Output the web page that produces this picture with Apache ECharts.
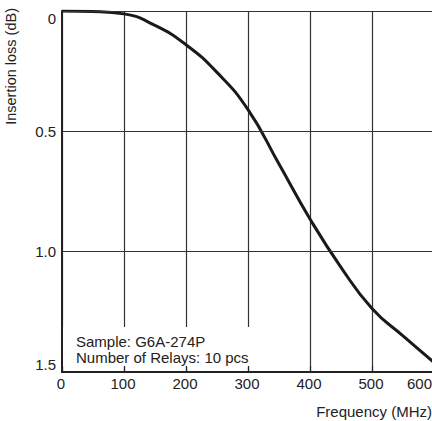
<!DOCTYPE html>
<html>
<head>
<meta charset="utf-8">
<script src="https://cdn.jsdelivr.net/npm/echarts@6/dist/echarts.min.js"></script>
<style>
html,body{margin:0;padding:0;background:#fff;}
#chart{width:432px;height:421px;}
</style>
</head>
<body>
<div id="chart"></div>
<script>
const frequencyMHz = [0, 50, 100, 150, 200, 250, 300, 350, 400, 450, 500, 550, 600];
const insertionLossDb = [0, 0.002, 0.012, 0.06, 0.14, 0.255, 0.41, 0.636, 0.864, 1.065, 1.236, 1.35, 1.46];
const xTicks = [0, 100, 200, 300, 400, 500, 600];
const yTickLabels = { 0: '0', 0.5: '0.5', 1: '1.0', 1.5: '1.5' };
const xTitle = 'Frequency (MHz)';
const yTitle = 'Insertion loss (dB)';
const noteLines = ['Sample: G6A-274P', 'Number of Relays: 10 pcs'];

const FONT = '"Liberation Sans", Arial, Helvetica, sans-serif';
const chart = echarts.init(document.getElementById('chart'), null, { renderer: 'svg' });

chart.setOption({
  backgroundColor: '#fff',
  animation: false,
  grid: { left: 62, top: 11, width: 372, height: 361, containLabel: false, outerBoundsMode: 'none' },
  xAxis: [
    {
      type: 'value', min: 0, max: 600, interval: 100, position: 'bottom', z: 5,
      axisLine: { show: true, onZero: false, lineStyle: { color: '#222', width: 2 } },
      axisTick: { show: true, inside: true, length: 6, lineStyle: { color: '#222', width: 1.2 } },
      axisLabel: { show: true, margin: 4, color: '#222', fontSize: 15, fontFamily: FONT,
        hideOverlap: false, alignMaxLabel: 'right', padding: [0, 2, 0, 0],
        formatter: v => xTicks.includes(v) ? String(v) : '' },
      splitLine: { show: false }
    },
    {
      type: 'value', min: 0, max: 600, interval: 100, position: 'bottom', z: 0,
      axisLine: { show: false }, axisTick: { show: false }, axisLabel: { show: false },
      splitLine: { show: true, lineStyle: { color: '#333', width: 1.2 } }
    }
  ],
  yAxis: {
    type: 'value', min: 0, max: 1.5, interval: 0.5, inverse: true, z: 4,
    axisLine: { show: true, onZero: false, lineStyle: { color: '#222', width: 2 } },
    axisTick: { show: false },
    axisLabel: { show: true, margin: 6, color: '#222', fontSize: 15, fontFamily: FONT,
      verticalAlignMinLabel: 'top', verticalAlignMaxLabel: 'bottom',
      formatter: v => yTickLabels[v] !== undefined ? yTickLabels[v] : '' },
    splitLine: { show: true, lineStyle: { color: '#333', width: 1.2 } }
  },
  graphic: [
    { type: 'rect', z: 1, shape: { x: 63, y: 327, width: 194, height: 40 }, style: { fill: '#fff' } },
    { type: 'text', z: 2, x: 76, y: 333, style: { text: noteLines.join('\n'), fill: '#222',
      font: '15px ' + FONT, lineHeight: 16.5, verticalAlign: 'top', align: 'left' } },
    { type: 'text', z: 2, x: 432, y: 411, style: { text: xTitle, fill: '#222',
      font: '15px ' + FONT, align: 'right', verticalAlign: 'middle' } },
    { type: 'text', z: 2, x: 11, y: 8, rotation: Math.PI / 2, style: { text: yTitle, fill: '#222',
      font: '14.5px ' + FONT, align: 'right', verticalAlign: 'middle' } }
  ],
  series: [{
    type: 'line', xAxisIndex: 0, yAxisIndex: 0, z: 3,
    data: frequencyMHz.map((f, i) => [f, insertionLossDb[i]]),
    smooth: true, showSymbol: false, symbol: 'none',
    lineStyle: { color: '#1a1a1a', width: 3 }
  }]
});
</script>
</body>
</html>
